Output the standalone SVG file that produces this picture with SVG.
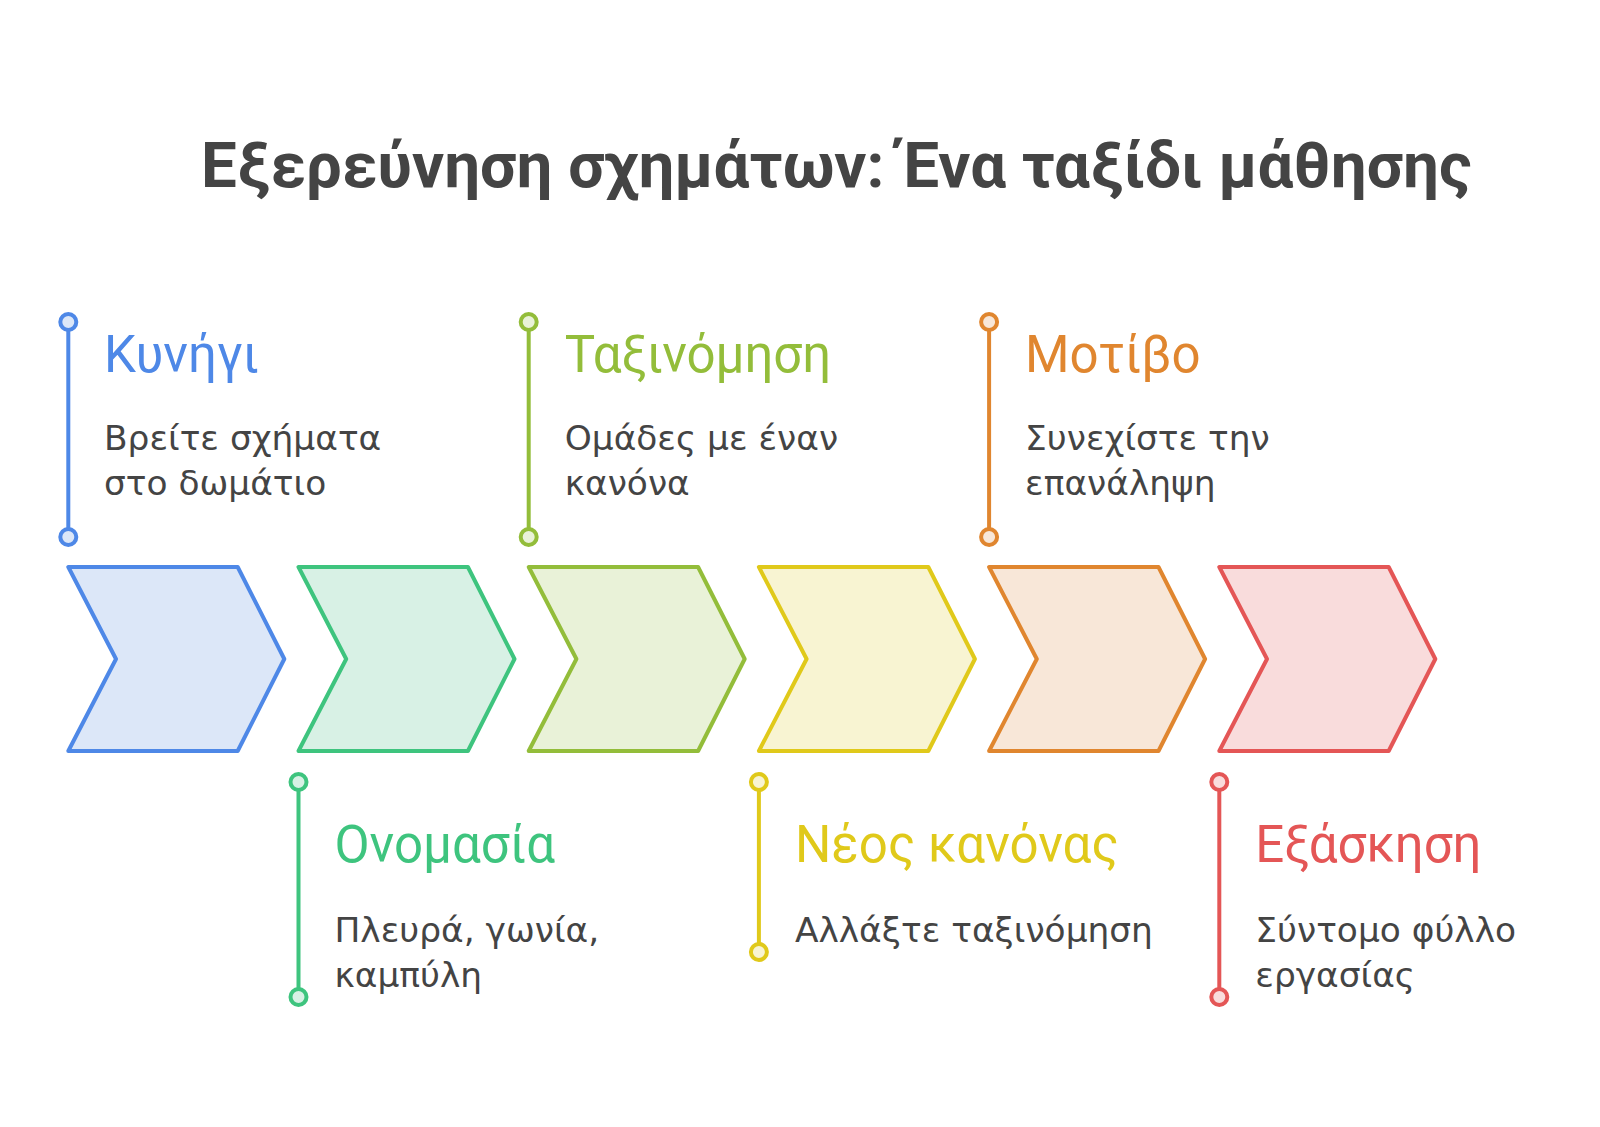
<svg xmlns="http://www.w3.org/2000/svg" width="1600" height="1127" viewBox="0 0 1600 1127">
<style>
.title{font-family:Roboto,"Noto Sans",sans-serif;font-weight:bold;font-size:63.6px;fill:#444444}
.lbl{font-family:Roboto,"Noto Sans",sans-serif;font-size:51px}
.body{font-family:"DejaVu Sans","Noto Sans",sans-serif;font-size:34.4px;fill:#444444}
.chev{stroke-width:4;stroke-linejoin:round}
.ln{stroke-width:4}
.dot{stroke-width:4}
</style>
<rect width="1600" height="1127" fill="#ffffff"/>
<text class="title" x="201" y="187">Εξερεύνηση σχημάτων: Ένα ταξίδι μάθησης</text>
<g id="connectors">
<line class="ln" x1="68.3" y1="322" x2="68.3" y2="537" stroke="#4e88e7"/>
<line class="ln" x1="298.5" y1="782" x2="298.5" y2="997" stroke="#3ec47e"/>
<line class="ln" x1="528.7" y1="322" x2="528.7" y2="537" stroke="#93bd3a"/>
<line class="ln" x1="758.9" y1="782" x2="758.9" y2="952" stroke="#e0c91a"/>
<line class="ln" x1="989.1" y1="322" x2="989.1" y2="537" stroke="#e0862f"/>
<line class="ln" x1="1219.3" y1="782" x2="1219.3" y2="997" stroke="#e45656"/>
<circle class="dot" cx="68.3" cy="322" r="8" fill="#dce7f8" stroke="#4e88e7"/>
<circle class="dot" cx="68.3" cy="537" r="8" fill="#dce7f8" stroke="#4e88e7"/>
<circle class="dot" cx="298.5" cy="782" r="8" fill="#d8f1e5" stroke="#3ec47e"/>
<circle class="dot" cx="298.5" cy="997" r="8" fill="#d8f1e5" stroke="#3ec47e"/>
<circle class="dot" cx="528.7" cy="322" r="8" fill="#e9f2d8" stroke="#93bd3a"/>
<circle class="dot" cx="528.7" cy="537" r="8" fill="#e9f2d8" stroke="#93bd3a"/>
<circle class="dot" cx="758.9" cy="782" r="8" fill="#f8f4d2" stroke="#e0c91a"/>
<circle class="dot" cx="758.9" cy="952" r="8" fill="#f8f4d2" stroke="#e0c91a"/>
<circle class="dot" cx="989.1" cy="322" r="8" fill="#f8e7d8" stroke="#e0862f"/>
<circle class="dot" cx="989.1" cy="537" r="8" fill="#f8e7d8" stroke="#e0862f"/>
<circle class="dot" cx="1219.3" cy="782" r="8" fill="#f9dcdc" stroke="#e45656"/>
<circle class="dot" cx="1219.3" cy="997" r="8" fill="#f9dcdc" stroke="#e45656"/>
</g>
<g id="step1">
<polygon class="chev" points="68.3,567 237.7,567 284.3,659 237.7,751 68.3,751 116,659" fill="#dce7f8" stroke="#4e88e7"/>
<text class="lbl" x="104" y="372" fill="#4e88e7">Κυνήγι</text>
<text class="body" x="104" y="450">Βρείτε σχήματα</text>
<text class="body" x="104" y="495">στο δωμάτιο</text>
</g>
<g id="step2">
<polygon class="chev" points="298.5,567 467.9,567 514.5,659 467.9,751 298.5,751 346.2,659" fill="#d8f1e5" stroke="#3ec47e"/>
<text class="lbl" x="334.5" y="862" fill="#3ec47e">Ονομασία</text>
<text class="body" x="334.5" y="942">Πλευρά, γωνία,</text>
<text class="body" x="334.5" y="987">καμπύλη</text>
</g>
<g id="step3">
<polygon class="chev" points="528.7,567 698.1,567 744.7,659 698.1,751 528.7,751 576.4,659" fill="#e9f2d8" stroke="#93bd3a"/>
<text class="lbl" x="564.7" y="372" fill="#93bd3a">Ταξινόμηση</text>
<text class="body" x="564.7" y="450">Ομάδες με έναν</text>
<text class="body" x="564.7" y="495">κανόνα</text>
</g>
<g id="step4">
<polygon class="chev" points="758.9,567 928.3,567 974.9,659 928.3,751 758.9,751 806.6,659" fill="#f8f4d2" stroke="#e0c91a"/>
<text class="lbl" x="794.9" y="862" fill="#e0c91a">Νέος κανόνας</text>
<text class="body" x="794.9" y="942">Αλλάξτε ταξινόμηση</text>
</g>
<g id="step5">
<polygon class="chev" points="989.1,567 1158.5,567 1205.1,659 1158.5,751 989.1,751 1036.8,659" fill="#f8e7d8" stroke="#e0862f"/>
<text class="lbl" x="1025.1" y="372" fill="#e0862f">Μοτίβο</text>
<text class="body" x="1025.1" y="450">Συνεχίστε την</text>
<text class="body" x="1025.1" y="495">επανάληψη</text>
</g>
<g id="step6">
<polygon class="chev" points="1219.3,567 1388.7,567 1435.3,659 1388.7,751 1219.3,751 1267,659" fill="#f9dcdc" stroke="#e45656"/>
<text class="lbl" x="1255.3" y="862" fill="#e45656">Εξάσκηση</text>
<text class="body" x="1255.3" y="942">Σύντομο φύλλο</text>
<text class="body" x="1255.3" y="987">εργασίας</text>
</g>
</svg>
